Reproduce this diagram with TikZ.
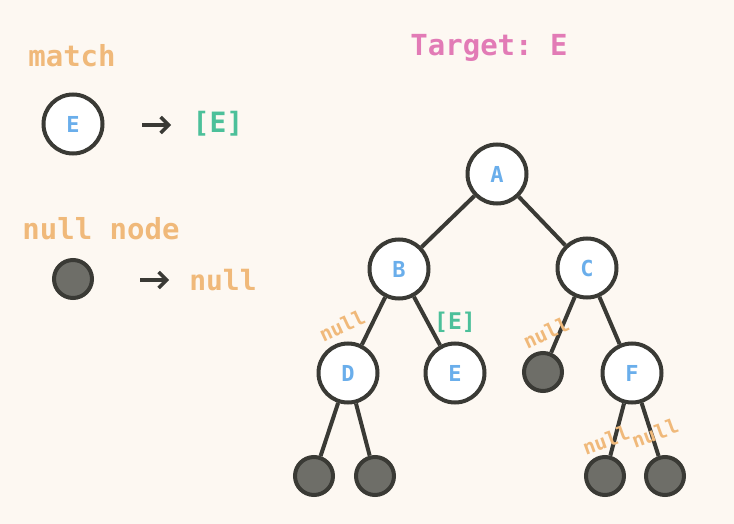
\documentclass[tikz,border=0pt]{standalone}
\usepackage{fontspec}
\usetikzlibrary{arrows.meta}
\setmonofont{DejaVu Sans Mono}
\definecolor{bgc}{HTML}{FDF8F2}
\definecolor{orng}{HTML}{F0B97A}
\definecolor{blu}{HTML}{6AAEEB}
\definecolor{grn}{HTML}{4CC09A}
\definecolor{pnk}{HTML}{E27BB6}
\definecolor{ink}{HTML}{3A3A35}
\definecolor{nullfill}{HTML}{6E6E68}
\tikzset{
  treenode/.style={circle, draw=ink, line width=4pt, fill=white, minimum size=59pt, inner sep=0pt,
    text=blu, font=\ttfamily\bfseries\fontsize{22}{22}\selectfont},
  nullnode/.style={circle, draw=ink, line width=4pt, fill=nullfill, minimum size=38pt, inner sep=0pt},
  edge/.style={draw=ink, line width=4pt},
  legarrow/.style={draw=ink, line width=3.5pt, -{Straight Barb[length=8pt, width=16pt, line width=3.5pt]}},
  bigtext/.style={font=\ttfamily\bfseries\fontsize{29}{29}\selectfont, inner sep=0pt},
  nulllabel/.style={text=orng, font=\ttfamily\bfseries\fontsize{20}{20}\selectfont, inner sep=0pt, rotate=25}
}
\begin{document}
\begin{tikzpicture}[x=1pt,y=-1pt]
\fill[bgc] (0,0) rectangle (734,524);
\useasboundingbox (0,0) rectangle (734,524);
% legend
\node[bigtext, text=orng] (matchlbl) at (72,56) {match};
\node[treenode] (legE) at (73,124) {E};
\coordinate (a1s) at (142,125);
\coordinate (a1e) at (171,125);
\draw[legarrow] (a1s) -- (a1e);
\node[bigtext, text=grn, font=\ttfamily\bfseries\fontsize{28}{28}\selectfont] (legEres) at (218,124) {[E]};
\node[bigtext, text=orng] (nulllbl) at (101,229) {null node};
\node[nullnode] (legnull) at (73,279) {};
\coordinate (a2s) at (140,280);
\coordinate (a2e) at (169,280);
\draw[legarrow] (a2s) -- (a2e);
\node[bigtext, text=orng, font=\ttfamily\bfseries\fontsize{28}{28}\selectfont] (legnullres) at (223,280) {null};
% title
\node[bigtext, text=pnk] (title) at (489,48) {Target: E};
% tree
\node[treenode] (A) at (497,174) {A};
\node[treenode] (B) at (399,269) {B};
\node[treenode] (C) at (587,268) {C};
\node[treenode] (D) at (348,373) {D};
\node[treenode] (E) at (455,373) {E};
\node[nullnode] (Cn) at (543,372) {};
\node[treenode] (F) at (632,373) {F};
\node[nullnode] (D1) at (314,476) {};
\node[nullnode] (D2) at (375,476) {};
\node[nullnode] (F1) at (605,476) {};
\node[nullnode] (F2) at (665,476) {};
\draw[edge] (A) -- (B);
\draw[edge] (A) -- (C);
\draw[edge] (B) -- (D);
\draw[edge] (B) -- (E);
\draw[edge] (C) -- (Cn);
\draw[edge] (C) -- (F);
\draw[edge] (D) -- (D1);
\draw[edge] (D) -- (D2);
\draw[edge] (F) -- (F1);
\draw[edge] (F) -- (F2);
% edge labels
\node[nulllabel] (l1) at (342,326) {null};
\node[bigtext, text=grn, font=\ttfamily\bfseries\fontsize{23}{23}\selectfont] (l2) at (455,322) {[E]};
\node[nulllabel] (l3) at (546,333) {null};
\node[nulllabel, rotate=-5] (l4) at (606,440) {null};
\node[nulllabel, rotate=-5] (l5) at (655,433) {null};
\end{tikzpicture}
\end{document}
